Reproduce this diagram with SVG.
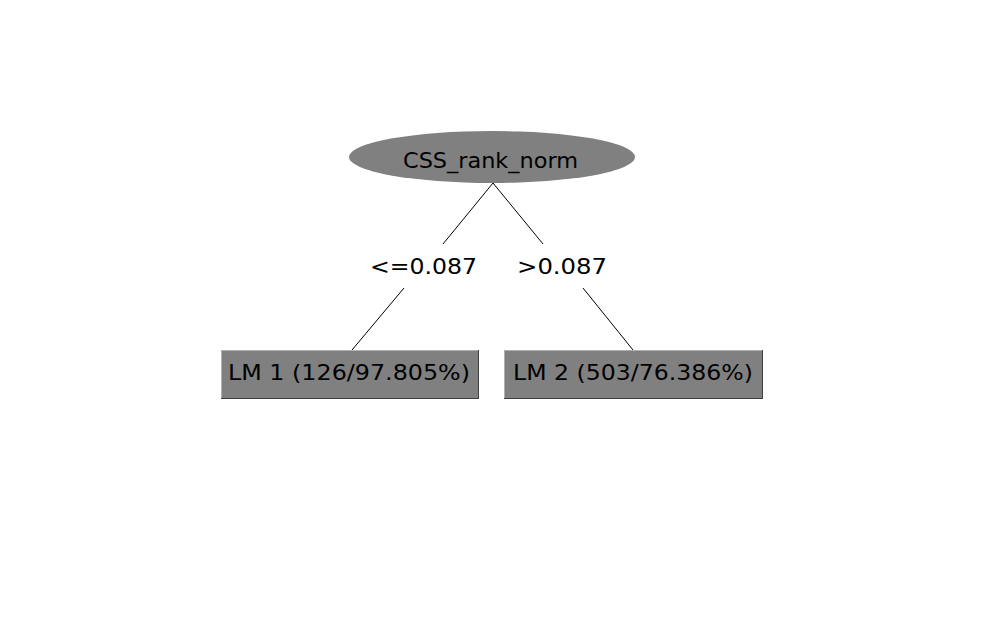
<svg xmlns="http://www.w3.org/2000/svg" width="988" height="630" viewBox="0 0 988 630">
<style>
text{font-family:"DejaVu Sans","Liberation Sans",sans-serif;font-size:22px;fill:#000}
.edge{stroke:#000;stroke-width:1;fill:none}
.node{fill:#808080}
</style>
<rect width="988" height="630" fill="#fff"/>
<g id="connectors">
<line class="edge" x1="493" y1="183" x2="443" y2="244"/>
<line class="edge" x1="493" y1="183" x2="543" y2="244"/>
<line class="edge" x1="404" y1="288" x2="352" y2="350"/>
<line class="edge" x1="583" y1="288" x2="633" y2="350"/>
<text x="370" y="274" textLength="107" lengthAdjust="spacingAndGlyphs">&lt;=0.087</text>
<text x="517" y="274" textLength="90" lengthAdjust="spacingAndGlyphs">&gt;0.087</text>
</g>
<g id="root">
<ellipse class="node" cx="492" cy="157" rx="143" ry="26"/>
<text x="403" y="168" textLength="175" lengthAdjust="spacingAndGlyphs">CSS_rank_norm</text>
</g>
<g id="lm1">
<rect class="node" x="221" y="350" width="258" height="49"/>
<path d="M221.5 399V350.5H479" stroke="#b0b0b0" fill="none"/>
<path d="M221 398.5H478.5V350" stroke="#404040" fill="none"/>
<text x="228" y="380" textLength="242" lengthAdjust="spacingAndGlyphs">LM 1 (126/97.805%)</text>
</g>
<g id="lm2">
<rect class="node" x="504" y="350" width="259" height="49"/>
<path d="M504.5 399V350.5H763" stroke="#b0b0b0" fill="none"/>
<path d="M504 398.5H762.5V350" stroke="#404040" fill="none"/>
<text x="513" y="380" textLength="240" lengthAdjust="spacingAndGlyphs">LM 2 (503/76.386%)</text>
</g>
</svg>
